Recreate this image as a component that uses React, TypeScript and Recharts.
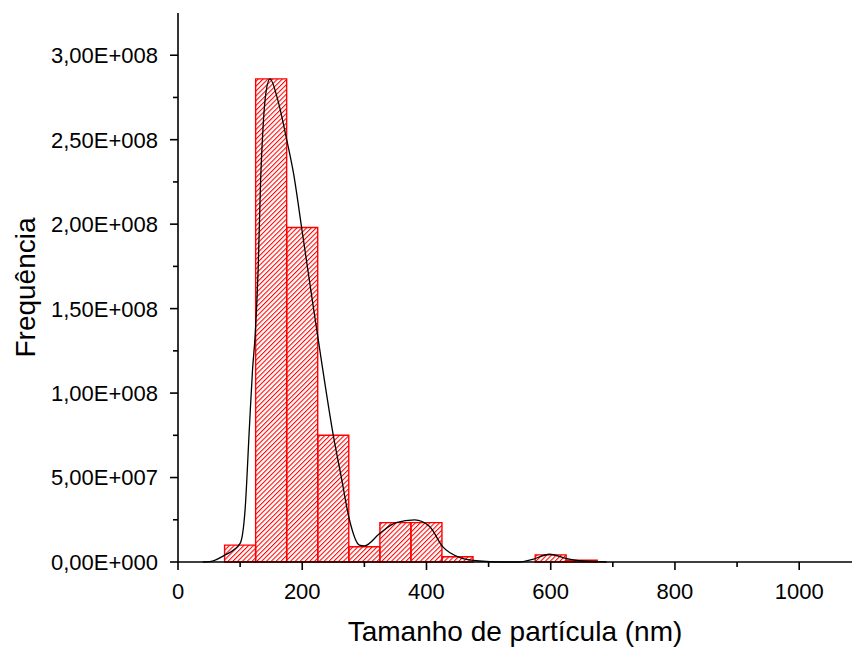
import { BarChart, Bar, LineChart, Line, XAxis, YAxis } from "recharts";

// histogram bins (bin centre, nm) and counts
const binCenters = [100, 150, 200, 250, 300, 350, 400, 450, 600, 650];
const binCounts = [1.0e7, 2.86e8, 1.98e8, 7.5e7, 9.0e6, 2.33e7, 2.33e7, 3.1e6, 4.2e6, 1.0e6];

// fitted curve
const fitSizes = [
  40, 51, 75, 100, 108, 115, 120, 124, 129, 133, 137, 142, 148, 161, 175, 186, 199, 217, 233, 250,
  263, 276, 292, 300, 325, 351, 381, 405, 426, 453, 485, 520, 549, 571, 598, 624, 651, 690,
];
const fitFreq = [
  0, 2e5, 4.0e6, 1.1e7, 3.1e7, 8.0e7, 1.14e8, 1.33e8, 1.73e8, 2.26e8, 2.58e8, 2.79e8, 2.86e8, 2.73e8,
  2.5e8, 2.3e8, 1.98e8, 1.53e8, 1.14e8, 7.5e7, 5.0e7, 2.5e7, 1.0e7, 9.5e6, 1.7e7, 2.33e7, 2.49e7,
  2.1e7, 9.1e6, 2.8e6, 6e5, 0, 0, 1.6e6, 4.6e6, 2.2e6, 6e5, 0,
];

const xTicks = [0, 100, 200, 300, 400, 500, 600, 700, 800, 900, 1000];
const yTicks = [0, 2.5e7, 5e7, 7.5e7, 1e8, 1.25e8, 1.5e8, 1.75e8, 2e8, 2.25e8, 2.5e8, 2.75e8, 3e8];

const X_MAX = 1085;
const Y_MAX = 3.25e8;

const W = 852;
const H = 650;
const Y_AXIS_W = 178;
const X_AXIS_H = 88;
const TOP = 13;
const FONT = 'Arial, "Liberation Sans", Helvetica, sans-serif';

const bins = binCenters.map((x, i) => ({ x, count: binCounts[i] }));
const fit = fitSizes.map((x, i) => ({ x, freq: fitFreq[i] }));

function sci(v: number) {
  if (v === 0) return "0,00E+000";
  const e = Math.floor(Math.log10(v));
  const m = v / Math.pow(10, e);
  return m.toFixed(2).replace(".", ",") + "E+" + String(e).padStart(3, "0");
}

function YTick(props: any) {
  const { x, y, payload } = props;
  const axisX = x + 20;
  const major = payload.value % 5e7 === 0;
  return (
    <g>
      <line x1={axisX - (major ? 8 : 5)} x2={axisX} y1={y} y2={y} stroke="#000" strokeWidth={1.6} />
      {major && (
        <text x={x} y={y} dy="0.36em" textAnchor="end" fontSize={22} fontFamily={FONT} fill="#000">
          {sci(payload.value)}
        </text>
      )}
    </g>
  );
}

function XTick(props: any) {
  const { x, y, payload } = props;
  const axisY = y - 21;
  const major = payload.value % 200 === 0;
  return (
    <g>
      <line x1={x} x2={x} y1={axisY} y2={axisY + (major ? 8 : 5)} stroke="#000" strokeWidth={1.6} />
      {major && (
        <text x={x} y={y} dy="0.71em" textAnchor="middle" fontSize={22} fontFamily={FONT} fill="#000">
          {payload.value}
        </text>
      )}
    </g>
  );
}

function XTitle(props: any) {
  const vb = props.viewBox;
  return (
    <text x={vb.x + vb.width / 2} y={vb.y + 79} textAnchor="middle" fontSize={28} fontFamily={FONT} fill="#000">
      Tamanho de partícula (nm)
    </text>
  );
}

function YTitle(props: any) {
  const vb = props.viewBox;
  const cx = vb.x + 35;
  const cy = vb.y + vb.height / 2;
  return (
    <text x={cx} y={cy} transform={`rotate(-90, ${cx}, ${cy})`} textAnchor="middle" fontSize={28} fontFamily={FONT} fill="#000">
      Frequência
    </text>
  );
}

export default function App() {
  return (
    <div style={{ position: "absolute", left: 0, top: 0, width: W, height: H, background: "#fff" }}>
      <div style={{ position: "absolute", left: 0, top: 0 }}>
        <BarChart
          width={W}
          height={H}
          data={bins}
          margin={{ top: TOP, right: 0, bottom: X_AXIS_H, left: Y_AXIS_W }}
          barCategoryGap={0}
          barGap={0}
        >
          <defs>
            <pattern id="hatch" patternUnits="userSpaceOnUse" width="3.4" height="3.4" patternTransform="rotate(45)">
              <line x1="0.5" y1="0" x2="0.5" y2="3.4" stroke="#ff0000" strokeWidth="1.1" />
            </pattern>
          </defs>
          <XAxis dataKey="x" type="number" domain={[0, X_MAX]} hide />
          <YAxis type="number" domain={[0, Y_MAX]} hide />
          <Bar dataKey="count" fill="url(#hatch)" stroke="#ff0000" strokeWidth={1.4} isAnimationActive={false} />
        </BarChart>
      </div>
      <div style={{ position: "absolute", left: 0, top: 0 }}>
        <LineChart width={W} height={H} data={fit} margin={{ top: TOP, right: 0, bottom: 0, left: 0 }}>
          <XAxis
            dataKey="x"
            type="number"
            domain={[0, X_MAX]}
            ticks={xTicks}
            interval={0}
            height={X_AXIS_H}
            tickSize={8}
            tickMargin={13}
            tickLine={false}
            tick={<XTick />}
            axisLine={{ stroke: "#000", strokeWidth: 1.6 }}
            label={<XTitle />}
          />
          <YAxis
            type="number"
            domain={[0, Y_MAX]}
            ticks={yTicks}
            interval={0}
            width={Y_AXIS_W}
            tickSize={8}
            tickMargin={12}
            tickLine={false}
            tick={<YTick />}
            axisLine={{ stroke: "#000", strokeWidth: 1.6 }}
            label={<YTitle />}
          />
          <Line
            dataKey="freq"
            type="monotone"
            stroke="#000"
            strokeWidth={1.3}
            dot={false}
            isAnimationActive={false}
          />
        </LineChart>
      </div>
    </div>
  );
}
